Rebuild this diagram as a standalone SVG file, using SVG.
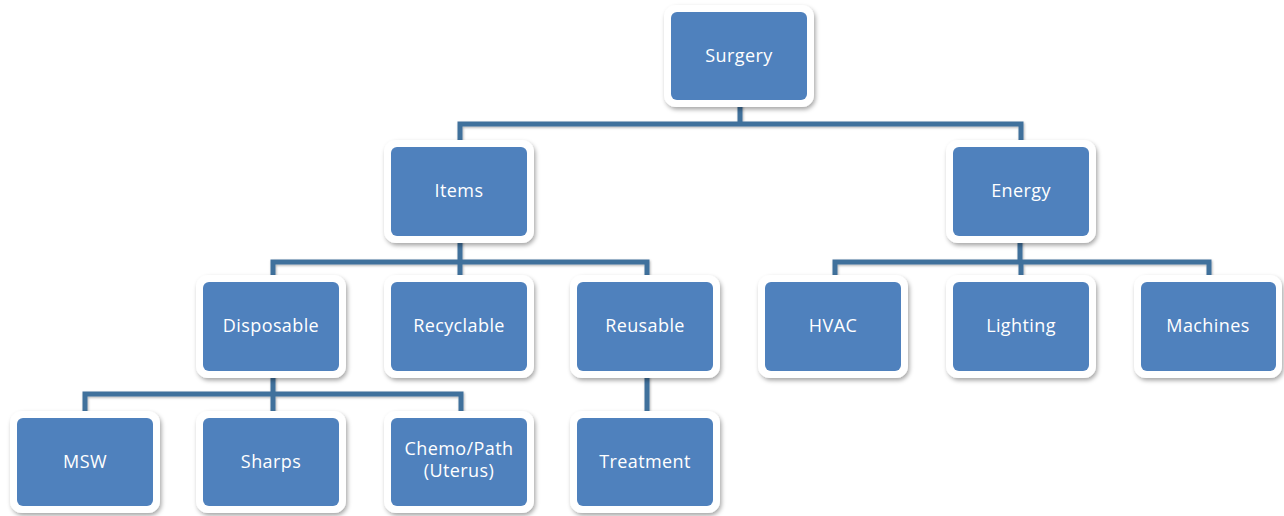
<svg xmlns="http://www.w3.org/2000/svg" width="1284" height="516" viewBox="0 0 1284 516">
  <defs>
    <filter id="shadow" x="-20%" y="-20%" width="140%" height="150%">
      <feDropShadow dx="1.5" dy="2.5" stdDeviation="2.2" flood-color="#000" flood-opacity="0.35"/>
    </filter>
    <filter id="lineShadow" filterUnits="userSpaceOnUse" x="0" y="0" width="1284" height="516">
      <feDropShadow dx="0.8" dy="1.2" stdDeviation="0.8" flood-color="#000" flood-opacity="0.3"/>
    </filter>
    <style>
      .frame { fill: #ffffff; filter: url(#shadow); }
      .box { fill: #4f81bd; }
      .lbl { font-family: "Open Sans", "Liberation Sans", sans-serif; font-size: 18px; fill: #ffffff; text-anchor: middle; letter-spacing: 0.4px; }
      .conn { fill: none; stroke: #41719c; stroke-width: 5; stroke-linejoin: miter; filter: url(#lineShadow); }
    </style>
  </defs>
  <rect width="1284" height="516" fill="#ffffff"/>

  <!-- tree connectors -->
  <g id="connectors">
    <path class="conn" d="M740 100 V124 M460 147 V124 H1021 V147"/>
    <path class="conn" d="M460 236 V262 M273 282 V262 H647 V282 M460 262 V282"/>
    <path class="conn" d="M1020 236 V262 M835 282 V262 H1209 V282 M1021 262 V282"/>
    <path class="conn" d="M273 371 V394 M85 418 V394 H461 V418 M273 394 V418"/>
    <path class="conn" d="M647 371 V418"/>
  </g>

  <!-- level 0 -->
  <g id="surgery">
    <rect class="frame" x="664" y="5" width="150" height="102" rx="12"/>
    <rect class="box" x="671" y="12" width="136" height="88" rx="6"/>
    <text class="lbl" x="739" y="62">Surgery</text>
  </g>

  <!-- level 1 -->
  <g id="items">
    <rect class="frame" x="384" y="140" width="150" height="103" rx="12"/>
    <rect class="box" x="391" y="147" width="136" height="89" rx="6"/>
    <text class="lbl" x="459" y="197">Items</text>
  </g>
  <g id="energy">
    <rect class="frame" x="946" y="140" width="150" height="103" rx="12"/>
    <rect class="box" x="953" y="147" width="136" height="89" rx="6"/>
    <text class="lbl" x="1021" y="197">Energy</text>
  </g>

  <!-- level 2 -->
  <g id="disposable">
    <rect class="frame" x="196" y="275" width="150" height="103" rx="12"/>
    <rect class="box" x="203" y="282" width="136" height="89" rx="6"/>
    <text class="lbl" x="271" y="332">Disposable</text>
  </g>
  <g id="recyclable">
    <rect class="frame" x="384" y="275" width="150" height="103" rx="12"/>
    <rect class="box" x="391" y="282" width="136" height="89" rx="6"/>
    <text class="lbl" x="459" y="332">Recyclable</text>
  </g>
  <g id="reusable">
    <rect class="frame" x="570" y="275" width="150" height="103" rx="12"/>
    <rect class="box" x="577" y="282" width="136" height="89" rx="6"/>
    <text class="lbl" x="645" y="332">Reusable</text>
  </g>
  <g id="hvac">
    <rect class="frame" x="758" y="275" width="150" height="103" rx="12"/>
    <rect class="box" x="765" y="282" width="136" height="89" rx="6"/>
    <text class="lbl" x="833" y="332">HVAC</text>
  </g>
  <g id="lighting">
    <rect class="frame" x="946" y="275" width="150" height="103" rx="12"/>
    <rect class="box" x="953" y="282" width="136" height="89" rx="6"/>
    <text class="lbl" x="1021" y="332">Lighting</text>
  </g>
  <g id="machines">
    <rect class="frame" x="1134" y="275" width="148" height="103" rx="12"/>
    <rect class="box" x="1141" y="282" width="135" height="89" rx="6"/>
    <text class="lbl" x="1208" y="332">Machines</text>
  </g>

  <!-- level 3 -->
  <g id="msw">
    <rect class="frame" x="10" y="411" width="150" height="102" rx="12"/>
    <rect class="box" x="17" y="418" width="136" height="88" rx="6"/>
    <text class="lbl" x="85" y="468">MSW</text>
  </g>
  <g id="sharps">
    <rect class="frame" x="196" y="411" width="150" height="102" rx="12"/>
    <rect class="box" x="203" y="418" width="136" height="88" rx="6"/>
    <text class="lbl" x="271" y="468">Sharps</text>
  </g>
  <g id="chemo-path">
    <rect class="frame" x="384" y="411" width="150" height="102" rx="12"/>
    <rect class="box" x="391" y="418" width="136" height="88" rx="6"/>
    <text class="lbl" x="459" y="455">Chemo/Path</text>
    <text class="lbl" x="459" y="477">(Uterus)</text>
  </g>
  <g id="treatment">
    <rect class="frame" x="570" y="411" width="150" height="102" rx="12"/>
    <rect class="box" x="577" y="418" width="136" height="88" rx="6"/>
    <text class="lbl" x="645" y="468">Treatment</text>
  </g>
</svg>
